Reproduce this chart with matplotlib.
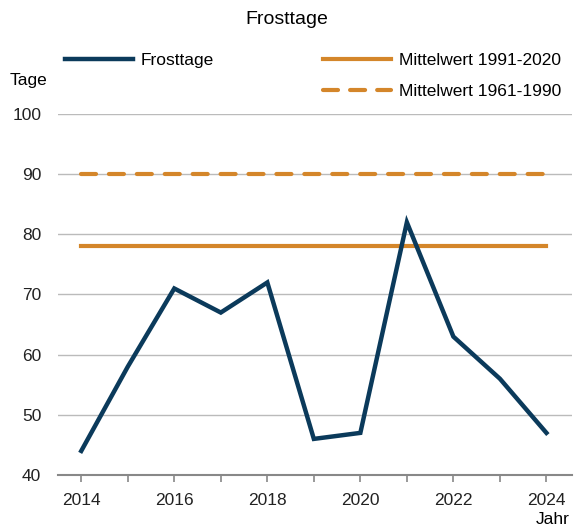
import matplotlib.pyplot as plt
from matplotlib.lines import Line2D

years = [2014, 2015, 2016, 2017, 2018, 2019, 2020, 2021, 2022, 2023, 2024]
frosttage = [44, 58, 71, 67, 72, 46, 47, 82, 63, 56, 47]
mean_1991_2020 = 78
mean_1961_1990 = 90

navy = "#0b3a5b"
orange = "#d4862a"

plt.rcParams["font.family"] = ["Liberation Sans", "DejaVu Sans"]
fs = 12.5

fig = plt.figure(figsize=(5.74, 5.31), dpi=100)
ax = fig.add_axes([58 / 574, 1 - 475 / 531, 514 / 574, 361 / 531])

ax.plot(years, frosttage, color=navy, lw=3.2, solid_joinstyle="miter", zorder=3)
ax.plot([years[0], years[-1]], [mean_1991_2020] * 2, color=orange, lw=3, zorder=2)
ax.plot([years[0], years[-1]], [mean_1961_1990] * 2, color=orange, lw=3,
        dashes=(3.6, 3.1), dash_capstyle="round", zorder=2)

ax.set_xlim(2013.5, 2024.55)
ax.set_ylim(40, 100)
ax.set_yticks(range(40, 101, 10))
ax.set_xticks(years, minor=True)
ax.set_xticks(range(2014, 2025, 2))
ax.grid(axis="y", color="#bbbbbb", lw=1)
ax.set_axisbelow(True)
for s in ["left", "right", "top"]:
    ax.spines[s].set_visible(False)
ax.spines["bottom"].set_color("#888888")
ax.spines["bottom"].set_linewidth(1.5)
ax.tick_params(axis="y", length=0, labelsize=fs, pad=12, labelcolor="#222222")
ax.tick_params(axis="x", which="both", length=5, width=1.2, color="#888888",
               labelsize=fs, labelcolor="#222222", pad=8)

fig.text(0.5, 1 - 20 / 531, "Frosttage", ha="center", va="center", fontsize=14)
fig.text(10 / 574, 1 - 81 / 531, "Tage", ha="left", va="center", fontsize=fs)
fig.text(570 / 574, 1 - 520 / 531, "Jahr", ha="right", va="center", fontsize=fs)

legend_items = [
    (Line2D([], [], color=navy, lw=3.2), "Frosttage", 65, 60),
    (Line2D([], [], color=orange, lw=3), "Mittelwert 1991-2020", 323, 60),
    (Line2D([], [], color=orange, lw=3, dashes=(3.6, 2.9), dash_capstyle="round"),
     "Mittelwert 1961-1990", 323, 91),
]
for handle, label, x, y in legend_items:
    leg = fig.legend([handle], [label], loc="center left",
                     bbox_to_anchor=(x / 574, 1 - y / 531), frameon=False,
                     fontsize=fs, handlelength=3.9, handletextpad=0.45,
                     borderpad=0, borderaxespad=0)

fig.savefig("out.png", dpi=100)
